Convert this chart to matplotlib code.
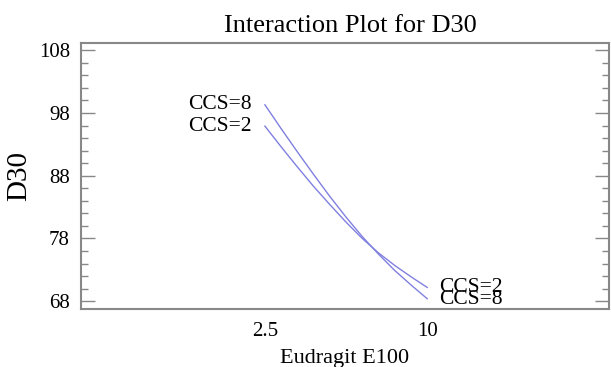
import matplotlib
matplotlib.use("Agg")
import matplotlib.pyplot as plt
from matplotlib.ticker import MultipleLocator

plt.rcParams['font.family'] = ['Liberation Serif', 'DejaVu Serif']

# Eudragit E100 level and fitted D30 values
eudragit = [2.5, 3.25, 4.0, 4.75, 5.5, 6.25, 7.0, 7.75, 8.5, 9.25, 10.0]
d30_ccs8 = [99.3, 95.5, 91.8, 88.2, 84.7, 81.4, 78.3, 75.5, 72.9, 70.6, 68.4]
d30_ccs2 = [95.9, 92.6, 89.4, 86.3, 83.4, 80.6, 78.0, 75.7, 73.7, 71.9, 70.2]
x_ticks = [2.5, 10]
y_ticks = [68, 78, 88, 98, 108]

fig = plt.figure(figsize=(6.11, 3.67), dpi=100)
ax = fig.add_axes([0.1326, 0.157, 0.864, 0.725])

line_color = '#8080e0'
ax.plot(eudragit, d30_ccs8, color=line_color, lw=1.0)
ax.plot(eudragit, d30_ccs2, color=line_color, lw=1.0)

# labels at both ends of each curve (the right pair overlaps, as in the original)
ax.text(eudragit[0] - 0.6, d30_ccs8[0], "CCS=8", ha='right', va='center', fontsize=15.5)
ax.text(eudragit[0] - 0.6, d30_ccs2[0], "CCS=2", ha='right', va='center', fontsize=15.5)
ax.text(eudragit[-1] + 0.55, d30_ccs2[-1], "CCS=2", ha='left', va='center', fontsize=15.5)
ax.text(eudragit[-1] + 0.55, d30_ccs8[-1] - 0.1, "CCS=8", ha='left', va='center', fontsize=15.5)

ax.set_xlim(-6.0, 18.4)
ax.set_ylim(66.7, 109.1)
ax.set_xticks(x_ticks)
ax.set_xticklabels(["2.5", "10"])
ax.set_yticks(y_ticks)
ax.yaxis.set_minor_locator(MultipleLocator(2))
ax.tick_params(axis='y', which='major', direction='in', length=10, width=1,
               color='#888888', left=True, right=True, labelsize=15, pad=8)
ax.tick_params(axis='y', which='minor', direction='in', length=5, width=1,
               color='#888888', left=True, right=True)
ax.tick_params(axis='x', which='both', length=0, labelsize=15, pad=9)

for s in ax.spines.values():
    s.set_color('#888888')
    s.set_linewidth(1.5)

ax.set_title("Interaction Plot for D30", fontsize=19, pad=8, x=0.51)
ax.set_xlabel("Eudragit E100", fontsize=16)
ax.set_ylabel("D30", fontsize=21)
ax.xaxis.set_label_coords(0.5, -0.148)
ax.yaxis.set_label_coords(-0.092, 0.5)

plt.savefig('out.png', dpi=100)
